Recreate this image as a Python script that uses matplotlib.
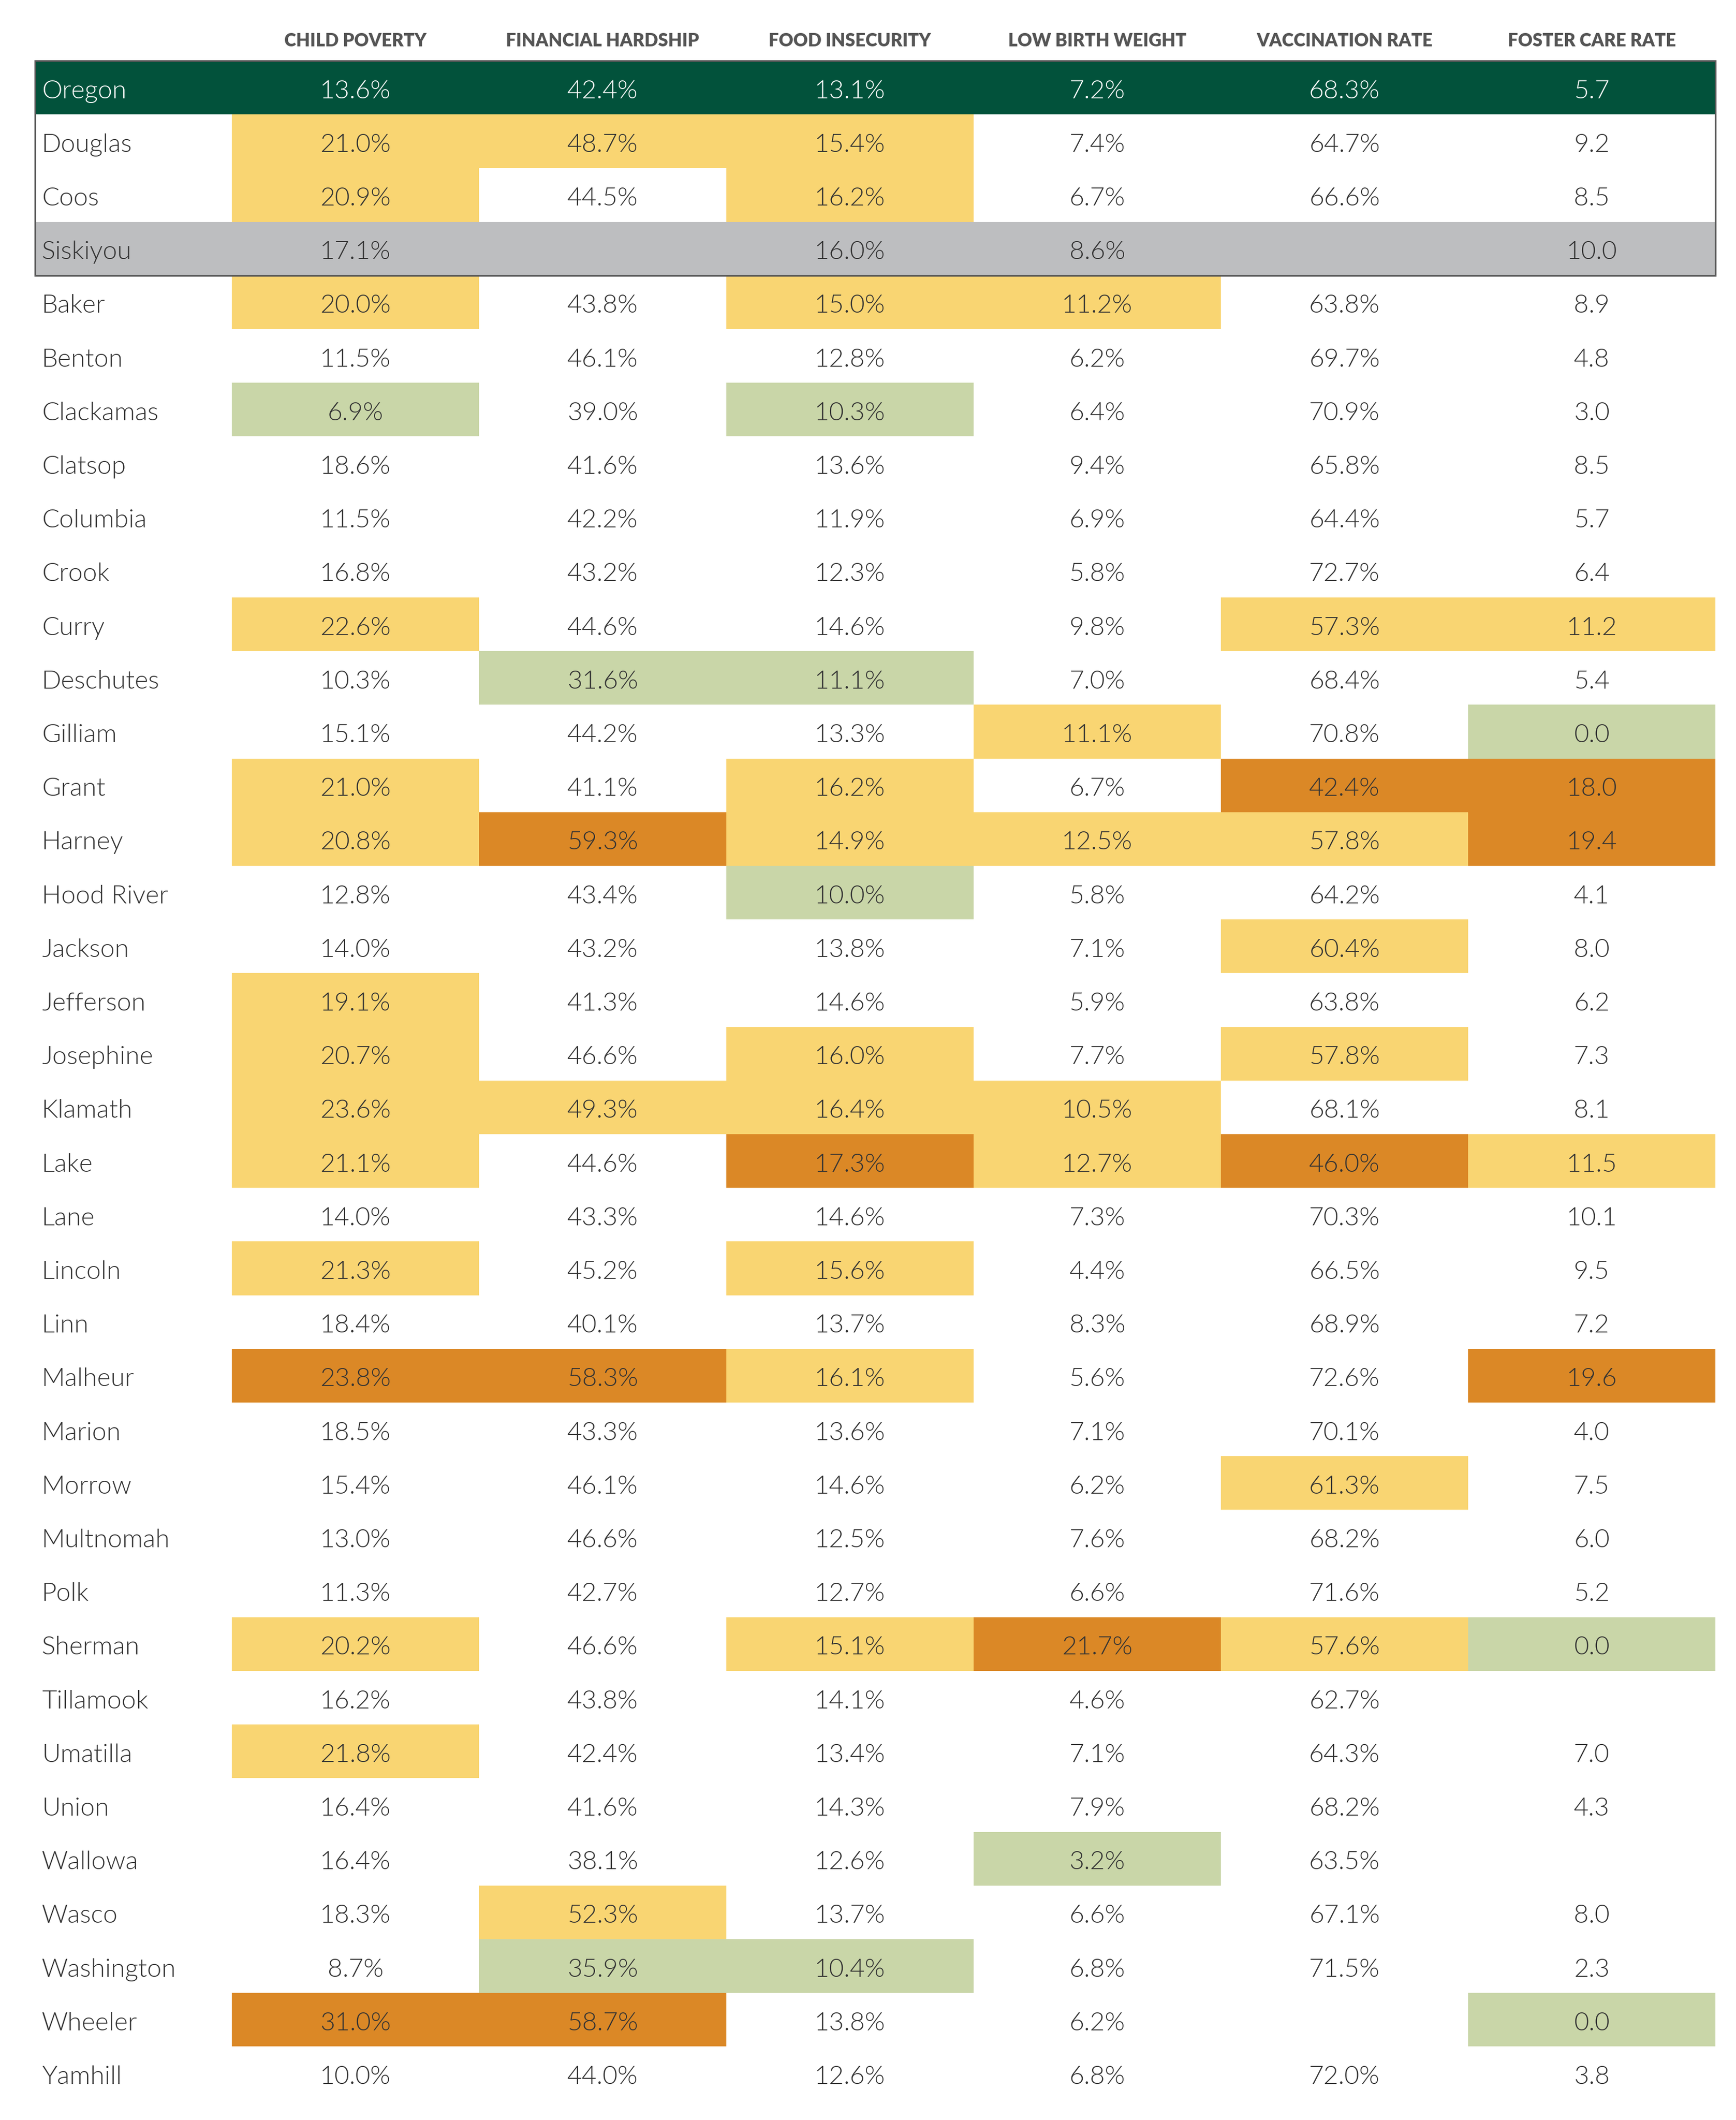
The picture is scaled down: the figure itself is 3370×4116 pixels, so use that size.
import matplotlib
matplotlib.use("Agg")
import matplotlib.pyplot as plt
from matplotlib.patches import Rectangle

plt.rcParams['font.family'] = ['Lato', 'DejaVu Sans']

columns = ["CHILD POVERTY", "FINANCIAL HARDSHIP", "FOOD INSECURITY",
           "LOW BIRTH WEIGHT", "VACCINATION RATE", "FOSTER CARE RATE"]

counties = ["Oregon", "Douglas", "Coos", "Siskiyou", "Baker", "Benton", "Clackamas",
            "Clatsop", "Columbia", "Crook", "Curry", "Deschutes", "Gilliam", "Grant",
            "Harney", "Hood River", "Jackson", "Jefferson", "Josephine", "Klamath",
            "Lake", "Lane", "Lincoln", "Linn", "Malheur", "Marion", "Morrow",
            "Multnomah", "Polk", "Sherman", "Tillamook", "Umatilla", "Union",
            "Wallowa", "Wasco", "Washington", "Wheeler", "Yamhill"]

# None = no data
child_poverty = [13.6, 21.0, 20.9, 17.1, 20.0, 11.5, 6.9, 18.6, 11.5, 16.8, 22.6, 10.3,
                 15.1, 21.0, 20.8, 12.8, 14.0, 19.1, 20.7, 23.6, 21.1, 14.0, 21.3, 18.4,
                 23.8, 18.5, 15.4, 13.0, 11.3, 20.2, 16.2, 21.8, 16.4, 16.4, 18.3, 8.7,
                 31.0, 10.0]
financial_hardship = [42.4, 48.7, 44.5, None, 43.8, 46.1, 39.0, 41.6, 42.2, 43.2, 44.6,
                      31.6, 44.2, 41.1, 59.3, 43.4, 43.2, 41.3, 46.6, 49.3, 44.6, 43.3,
                      45.2, 40.1, 58.3, 43.3, 46.1, 46.6, 42.7, 46.6, 43.8, 42.4, 41.6,
                      38.1, 52.3, 35.9, 58.7, 44.0]
food_insecurity = [13.1, 15.4, 16.2, 16.0, 15.0, 12.8, 10.3, 13.6, 11.9, 12.3, 14.6, 11.1,
                   13.3, 16.2, 14.9, 10.0, 13.8, 14.6, 16.0, 16.4, 17.3, 14.6, 15.6, 13.7,
                   16.1, 13.6, 14.6, 12.5, 12.7, 15.1, 14.1, 13.4, 14.3, 12.6, 13.7, 10.4,
                   13.8, 12.6]
low_birth_weight = [7.2, 7.4, 6.7, 8.6, 11.2, 6.2, 6.4, 9.4, 6.9, 5.8, 9.8, 7.0, 11.1, 6.7,
                    12.5, 5.8, 7.1, 5.9, 7.7, 10.5, 12.7, 7.3, 4.4, 8.3, 5.6, 7.1, 6.2, 7.6,
                    6.6, 21.7, 4.6, 7.1, 7.9, 3.2, 6.6, 6.8, 6.2, 6.8]
vaccination_rate = [68.3, 64.7, 66.6, None, 63.8, 69.7, 70.9, 65.8, 64.4, 72.7, 57.3, 68.4,
                    70.8, 42.4, 57.8, 64.2, 60.4, 63.8, 57.8, 68.1, 46.0, 70.3, 66.5, 68.9,
                    72.6, 70.1, 61.3, 68.2, 71.6, 57.6, 62.7, 64.3, 68.2, 63.5, 67.1, 71.5,
                    None, 72.0]
foster_care_rate = [5.7, 9.2, 8.5, 10.0, 8.9, 4.8, 3.0, 8.5, 5.7, 6.4, 11.2, 5.4, 0.0, 18.0,
                    19.4, 4.1, 8.0, 6.2, 7.3, 8.1, 11.5, 10.1, 9.5, 7.2, 19.6, 4.0, 7.5, 6.0,
                    5.2, 0.0, None, 7.0, 4.3, None, 8.0, 2.3, 0.0, 3.8]

# flags per cell: W = worse than state, X = much worse, B = better, . = none
flags = ["......",  # Oregon
         "WWW...", "W.W...", "......", "W.WW..", "......", "B.B...", "......",
         "......", "......", "W...WW", ".BB...", "...W.B", "W.W.XX", "WXWWWX",
         "..B...", "....W.", "W.....", "W.W.W.", "WWWW..", "W.XWXW", "......",
         "W.W...", "......", "XXW..X", "......", "....W.", "......", "......",
         "W.WXWB", "......", "W.....", "......", "...B..", ".W....", ".BB...",
         "XX...B", "......"]

values = [child_poverty, financial_hardship, food_insecurity,
          low_birth_weight, vaccination_rate, foster_care_rate]
is_pct = [True, True, True, True, True, False]

flag_colors = {"W": "#F9D572", "X": "#DB8826", "B": "#C9D6A8"}
state_color = "#02523B"
nodata_row_color = "#BDBEC0"
text_color = "#333333"

W, H = 3370, 4116
fig = plt.figure(figsize=(W / 100, H / 100), dpi=100)
ax = fig.add_axes([0, 0, 1, 1])
ax.set_xlim(0, W)
ax.set_ylim(H, 0)
ax.axis("off")

table_left = 68
col_left = 450
col_w = 480
row_top = 118
row_h = 104.2
table_right = col_left + col_w * len(columns)
text_dy = 7

for j, name in enumerate(columns):
    ax.text(col_left + col_w * (j + 0.5), 79, name, ha="center", va="center",
            fontsize=25, fontweight="heavy", color="#555555")

for i, county in enumerate(counties):
    top = row_top + i * row_h
    cy = top + row_h / 2 + text_dy
    tc = text_color
    if i == 0:
        ax.add_patch(Rectangle((table_left, top), table_right - table_left, row_h,
                               facecolor=state_color, edgecolor="none"))
        tc = "white"
    elif county == "Siskiyou":
        ax.add_patch(Rectangle((table_left, top), table_right - table_left, row_h,
                               facecolor=nodata_row_color, edgecolor="none"))
    ax.text(81, cy, county, ha="left", va="center", fontsize=36,
            fontweight=300, color=tc)
    for j in range(len(columns)):
        f = flags[i][j]
        if f in flag_colors:
            ax.add_patch(Rectangle((col_left + j * col_w, top), col_w, row_h,
                                   facecolor=flag_colors[f], edgecolor="none"))
        v = values[j][i]
        if v is None:
            continue
        label = f"{v:.1f}%" if is_pct[j] else f"{v:.1f}"
        ax.text(col_left + col_w * (j + 0.5), cy, label, ha="center", va="center",
                fontsize=36, fontweight=300, color=tc)

# frame around the state and Southern Oregon comparison rows
ax.add_patch(Rectangle((table_left, row_top), table_right - table_left, 4 * row_h,
                       facecolor="none", edgecolor="#555555", linewidth=2.4, zorder=5))

fig.savefig("out.png", dpi=100)
